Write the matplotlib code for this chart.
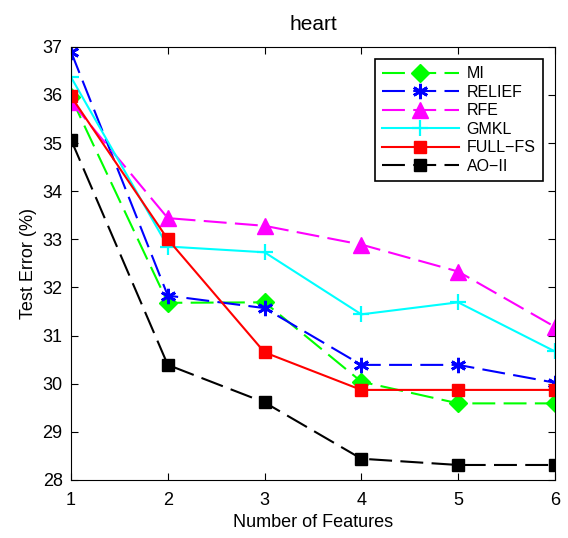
import matplotlib
matplotlib.use("Agg")
import matplotlib.pyplot as plt

plt.rcParams['font.family'] = ['Liberation Sans', 'DejaVu Sans']

num_features = [1, 2, 3, 4, 5, 6]
mi = [35.95, 31.68, 31.69, 30.04, 29.59, 29.59]
relief = [36.9, 31.83, 31.57, 30.39, 30.39, 30.02]
rfe = [35.86, 33.44, 33.28, 32.89, 32.33, 31.18]
gmkl = [36.37, 32.85, 32.73, 31.44, 31.69, 30.67]
full_fs = [35.97, 33.0, 30.65, 29.87, 29.87, 29.87]
ao_ii = [35.07, 30.39, 29.61, 28.44, 28.31, 28.31]

fig = plt.figure(figsize=(5.68, 5.38), dpi=100)
ax = fig.add_axes([0.125, 0.108, 0.852, 0.805])

dash = (11, 4)
lw = 1.5
ax.plot(num_features, mi, color='#00ff00', lw=lw, dashes=dash, marker='D', ms=9, label='MI')
ax.plot(num_features, relief, color='#0000ff', lw=lw, dashes=dash, marker=(6, 2, 0), ms=11, mew=2, label='RELIEF')
ax.plot(num_features, rfe, color='#ff00ff', lw=lw, dashes=dash, marker='^', ms=12, label='RFE')
ax.plot(num_features, gmkl, color='#00ffff', lw=lw, marker='+', ms=12, mew=1.6, label='GMKL')
ax.plot(num_features, full_fs, color='#ff0000', lw=lw, marker='s', ms=9, label='FULL\u2212FS')
ax.plot(num_features, ao_ii, color='k', lw=lw, dashes=dash, marker='s', ms=9, label='AO\u2212II')

ax.set_xlim(1, 6)
ax.set_ylim(28, 37)
ax.set_xticks(num_features)
ax.set_yticks(range(28, 38))
ax.tick_params(direction='in', top=True, right=True, labelsize=13, length=5)
ax.tick_params(axis='x', pad=9)
ax.tick_params(axis='y', pad=6)
ax.set_xlabel('Number of Features', fontsize=13, labelpad=3)
ax.set_ylabel('Test Error (%)', fontsize=13, labelpad=4)
ax.set_title('heart', fontsize=15, pad=12)

leg = ax.legend(loc='upper right', fontsize=11.5, fancybox=False, framealpha=1,
                edgecolor='k', handlelength=4.8, handletextpad=0.5, borderpad=0.45,
                labelspacing=0.22, borderaxespad=0, bbox_to_anchor=(0.975, 0.972))
leg.get_frame().set_linewidth(1.2)

fig.savefig('out.png', dpi=100)
